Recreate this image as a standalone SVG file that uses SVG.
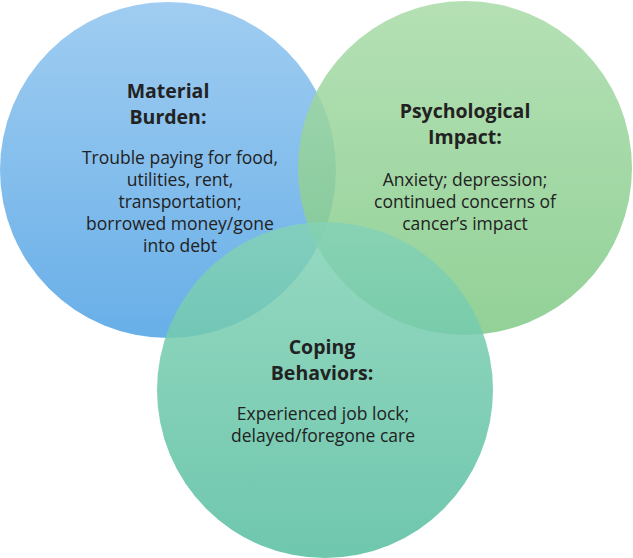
<svg xmlns="http://www.w3.org/2000/svg" width="633" height="558" viewBox="0 0 633 558">
<defs>
<linearGradient id="gb" x1="0" y1="0" x2="0" y2="1"><stop offset="0" stop-color="#a0cdf1"/><stop offset="1" stop-color="#68afe8"/></linearGradient>
<linearGradient id="gg" x1="0" y1="0" x2="0" y2="1"><stop offset="0" stop-color="#a8dba8"/><stop offset="1" stop-color="#7fc985"/></linearGradient>
<linearGradient id="gt" x1="0" y1="0" x2="0" y2="1"><stop offset="0" stop-color="#84d2b6"/><stop offset="1" stop-color="#55bd9f"/></linearGradient>
<style>
.t{font-family:"Open Sans","Liberation Sans",sans-serif;fill:#222;text-anchor:middle}
.h{font-size:19.5px;font-weight:bold}
.b{font-size:17.5px}
</style>
</defs>
<g id="material"><circle cx="168" cy="170" r="168" fill="url(#gb)"/></g>
<g id="psychological"><circle cx="465" cy="168" r="167" fill="url(#gg)" fill-opacity="0.85"/></g>
<g id="coping"><circle cx="325" cy="390" r="168" fill="url(#gt)" fill-opacity="0.85"/></g>
<g id="connectors"/>
<g id="labels">
<text class="t h" x="168" y="98">Material</text>
<text class="t h" x="168" y="124">Burden:</text>
<text class="t b" x="180" y="164">Trouble paying for food,</text>
<text class="t b" x="180" y="186">utilities, rent,</text>
<text class="t b" x="180" y="208">transportation;</text>
<text class="t b" x="180" y="230">borrowed money/gone</text>
<text class="t b" x="180" y="252">into debt</text>
<text class="t h" x="465" y="118">Psychological</text>
<text class="t h" x="465" y="144">Impact:</text>
<text class="t b" x="465" y="186">Anxiety; depression;</text>
<text class="t b" x="465" y="208">continued concerns of</text>
<text class="t b" x="465" y="230">cancer’s impact</text>
<text class="t h" x="322" y="354">Coping</text>
<text class="t h" x="322" y="380">Behaviors:</text>
<text class="t b" x="323" y="420">Experienced job lock;</text>
<text class="t b" x="323" y="442">delayed/foregone care</text>
</g>
</svg>
